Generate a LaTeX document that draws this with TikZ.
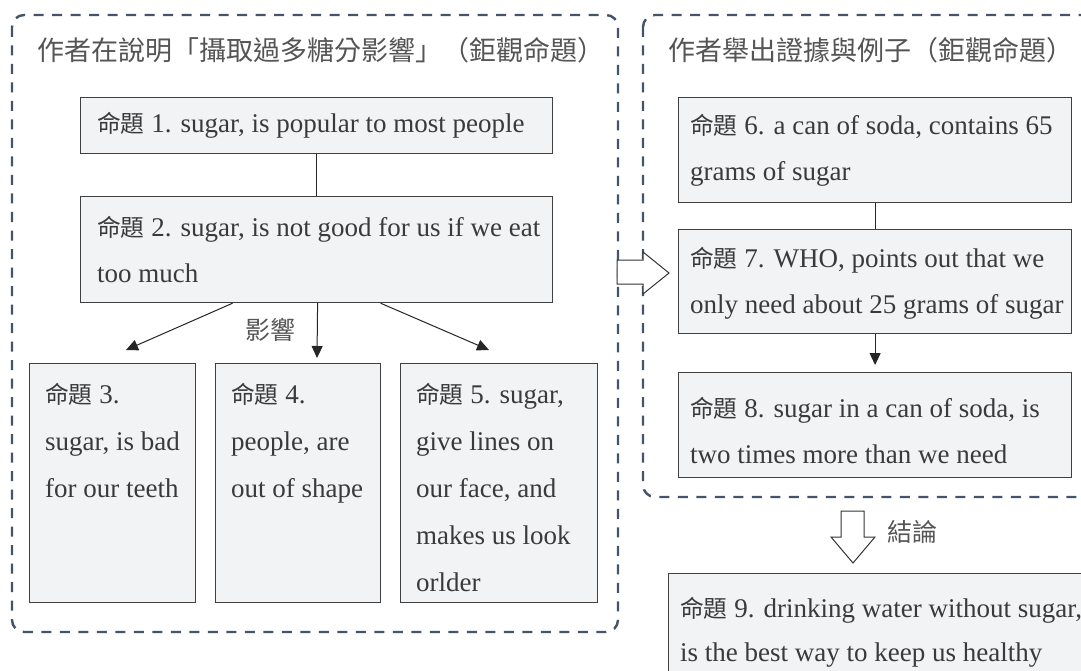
\documentclass[tikz,border=0pt]{standalone}
\usepackage{fontspec}
\setmainfont{Liberation Serif}
\newfontfamily\cjk[Scale=0.88]{Noto Sans CJK TC}
\newfontfamily\cjkt{Noto Sans CJK TC}
\usetikzlibrary{arrows.meta,calc}
\definecolor{dashc}{HTML}{44546A}
\definecolor{boxfill}{HTML}{F2F3F5}
\definecolor{boxline}{HTML}{404040}
\definecolor{txt}{HTML}{3A3A3A}
\definecolor{ttl}{HTML}{555555}
\newcommand{\mt}{{\cjk 命題}}
\begin{document}
\begin{tikzpicture}[x=1pt,y=-1pt,
 container/.style={draw=dashc, line width=2.4pt, dash pattern=on 10pt off 8.5pt, rounded corners=12pt},
 propbox/.style={draw=boxline, fill=boxfill, line width=1.2pt, rectangle, inner sep=0pt, anchor=north west},
 proptext/.style={text=txt, font=\fontsize{27}{46}\selectfont, align=left, inner sep=0pt},
 title/.style={text=ttl, font=\cjkt\fontsize{27}{30}\selectfont, inner sep=0pt, anchor=west},
 lbl/.style={text=ttl, font=\cjkt\fontsize{25}{25}\selectfont, inner sep=0pt},
 link/.style={draw=black!85, line width=1pt},
 arr/.style={link, -{Triangle[length=12pt,width=11pt]}},
 hollow/.style={draw=black!80, line width=1pt, fill=white, line join=miter}
]
\useasboundingbox (0,0) rectangle (1081,671);
\clip (0,0) rectangle (1081,671);
\fill[white] (0,0) rectangle (1081,671);

% containers
\draw[container] (12,15) rectangle (618,632);
\draw[container] (643,15) rectangle (1110,497);

% titles
\node[title] (tl) at (37,50) {作者在說明「攝取過多糖分影響」（鉅觀命題）};
\node[title] (tr) at (668,50) {作者舉出證據與例子（鉅觀命題）};

% left boxes
\node[propbox, minimum width=472pt, minimum height=56pt] (b1) at (80,97) {};
\node[propbox, minimum width=472pt, minimum height=106pt] (b2) at (80,196) {};
\node[propbox, minimum width=166pt, minimum height=239pt] (b3) at (29,363) {};
\node[propbox, minimum width=165pt, minimum height=239pt] (b4) at (215,363) {};
\node[propbox, minimum width=197pt, minimum height=239pt] (b5) at (400,363) {};

\node[proptext, anchor=west] (t1) at ($(b1.west)+(17,0)$) {\mt\ 1. sugar, is popular to most people};
\node[proptext, anchor=west] (t2) at ($(b2.west)+(17,0)$) {\mt\ 2. sugar, is not good for us if we eat\\too much};
\node[proptext, anchor=north west, font=\fontsize{27}{47}\selectfont] (t3) at ($(b3.north west)+(16,20)$) {\mt\ 3.\\sugar, is bad\\for our teeth};
\node[proptext, anchor=north west, font=\fontsize{27}{47}\selectfont] (t4) at ($(b4.north west)+(16,20)$) {\mt\ 4.\\people, are\\out of shape};
\node[proptext, anchor=north west, font=\fontsize{27}{47}\selectfont] (t5) at ($(b5.north west)+(16,20)$) {\mt\ 5. sugar,\\give lines on\\our face, and\\makes us look\\orlder};

% right boxes
\node[propbox, minimum width=393pt, minimum height=105pt] (b6) at (678,97) {};
\node[propbox, minimum width=393pt, minimum height=104pt] (b7) at (678,229) {};
\node[propbox, minimum width=393pt, minimum height=105pt] (b8) at (678,372) {};
\node[propbox, minimum width=440pt, minimum height=130pt] (b9) at (668,573) {};

\node[proptext, anchor=west] (t6) at ($(b6.west)+(12,0)$) {\mt\ 6. a can of soda, contains 65\\grams of sugar};
\node[proptext, anchor=west] (t7) at ($(b7.west)+(12,2)$) {\mt\ 7. WHO, points out that we\\only need about 25 grams of sugar};
\node[proptext, anchor=west] (t8) at ($(b8.west)+(12,5)$) {\mt\ 8. sugar in a can of soda, is\\two times more than we need};
\node[proptext, anchor=north west, font=\fontsize{27}{44}\selectfont] (t9) at ($(b9.north west)+(12,24)$) {\mt\ 9. drinking water without sugar,\\is the best way to keep us healthy};

% connectors
\draw[link] (b1.south) -- (b2.north);
\coordinate (s1) at ($(b2.south)+(-84,0)$);
\coordinate (s3) at ($(b2.south)+(64,0)$);
\coordinate (e1) at (126,350);
\coordinate (e2) at (317,358);
\coordinate (e3) at (489,350);
\draw[arr] (s1) -- (e1);
\draw[arr] ($(b2.south)+(1,0)$) -- (e2);
\draw[arr] (s3) -- (e3);
\node[lbl] (l1) at (270,330) {影響};

\draw[link] (b6.south) -- (b7.north);
\draw[arr, shorten >=7pt] (b7.south) -- (b8.north);

% hollow arrows
\draw[hollow] (617,260) -- (643,260) -- (643,252) -- (669,273) -- (643,294) -- (643,284) -- (617,284) -- cycle;
\draw[hollow] (841,511) -- (864,511) -- (864,537) -- (875,537) -- (853,563) -- (831,537) -- (841,537) -- cycle;
\node[lbl] (l2) at (912,532) {結論};
\end{tikzpicture}
\end{document}
